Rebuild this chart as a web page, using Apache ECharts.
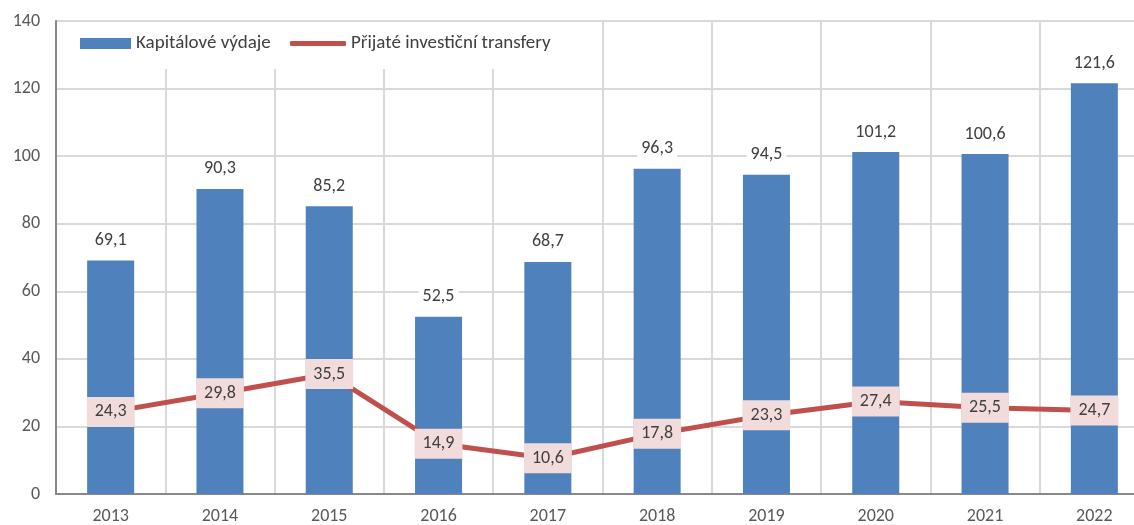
<!DOCTYPE html>
<html>
<head>
<meta charset="utf-8">
<script src="https://cdn.jsdelivr.net/npm/echarts@6/dist/echarts.min.js"></script>
<style>
html,body{margin:0;padding:0;background:#fff;overflow:hidden;}
#chart{width:1152px;height:525px;}
</style>
</head>
<body>
<div id="chart"></div>
<script>
const years = ['2013','2014','2015','2016','2017','2018','2019','2020','2021','2022'];
const kapitaloveVydaje = [69.1, 90.3, 85.2, 52.5, 68.7, 96.3, 94.5, 101.2, 100.6, 121.6];
const prijateTransfery = [24.3, 29.8, 35.5, 14.9, 10.6, 17.8, 23.3, 27.4, 25.5, 24.7];
const seriesNames = ['Kapitálové výdaje', 'Přijaté investiční transfery'];

const FONT = "Carlito, 'Open Sans', sans-serif";
const fmt = v => v.toFixed(1).replace('.', ',');

const chart = echarts.init(document.getElementById('chart'), null, {renderer: 'canvas'});
chart.setOption({
  animation: false,
  backgroundColor: '#ffffff',
  textStyle: {fontFamily: FONT},
  grid: {left: 56, top: 21, right: 3, bottom: 31, containLabel: false},
  legend: [
    {
      data: [{name: seriesNames[0], icon: 'rect'}],
      left: 62, top: 22,
      padding: [12, 30, 16, 18],
      backgroundColor: '#ffffff',
      itemWidth: 51, itemHeight: 11,
      textStyle: {fontFamily: FONT, fontSize: 19, color: '#404040'}
    },
    {
      data: [{name: seriesNames[1], icon: 'roundRect'}],
      left: 272, top: 22,
      padding: [12, 14, 16, 18],
      backgroundColor: '#ffffff',
      itemWidth: 56, itemHeight: 5,
      textStyle: {fontFamily: FONT, fontSize: 19, color: '#404040'}
    }
  ],
  xAxis: {
    type: 'category',
    data: years,
    boundaryGap: true,
    axisLine: {show: true, lineStyle: {color: '#898989', width: 2}},
    axisTick: {show: false},
    axisLabel: {fontFamily: FONT, fontSize: 18, color: '#595959', margin: 13},
    splitLine: {show: true, lineStyle: {color: '#d9d9d9', width: 2}}
  },
  yAxis: {
    type: 'value',
    min: 0, max: 140, interval: 20,
    axisLine: {show: true, lineStyle: {color: '#898989', width: 2}},
    axisTick: {show: false},
    axisLabel: {fontFamily: FONT, fontSize: 18, color: '#595959', margin: 16},
    splitLine: {show: true, lineStyle: {color: '#d9d9d9', width: 2}}
  },
  series: [
    {
      name: seriesNames[0],
      type: 'bar',
      data: kapitaloveVydaje,
      barWidth: 47,
      itemStyle: {color: '#4f81bd'},
      z: 2,
      label: {
        show: true, position: 'top', distance: 9,
        formatter: p => fmt(p.value),
        fontFamily: FONT, fontSize: 18, color: '#404040',
        backgroundColor: '#ffffff', padding: [2, 4]
      }
    },
    {
      name: seriesNames[1],
      type: 'line',
      data: prijateTransfery,
      symbol: 'circle',
      symbolSize: 1,
      showSymbol: true,
      lineStyle: {color: '#c0504d', width: 5, cap: 'round'},
      itemStyle: {color: '#c0504d'},
      z: 3,
      label: {
        show: true, position: 'inside',
        formatter: p => fmt(p.value),
        fontFamily: FONT, fontSize: 18, color: '#404040',
        backgroundColor: '#f2dcdb', padding: [6, 8]
      }
    }
  ]
});
</script>
</body>
</html>
